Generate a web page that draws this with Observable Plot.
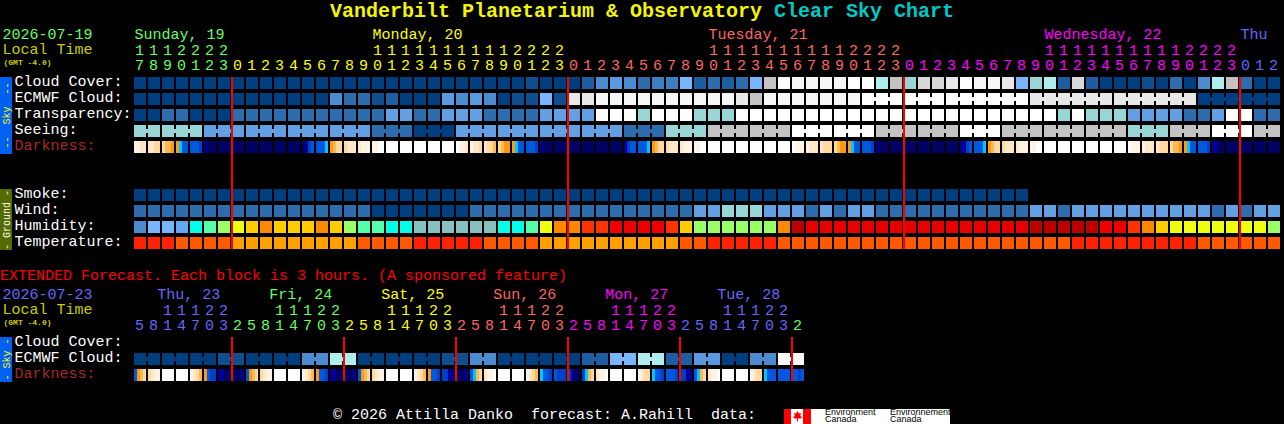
<!DOCTYPE html>
<html>
<head>
<meta charset="utf-8">
<script src="https://cdn.jsdelivr.net/npm/d3@7"></script>
<script src="https://cdn.jsdelivr.net/npm/@observablehq/plot@0.6"></script>
<style>
  html, body { margin: 0; padding: 0; background: #000; overflow: hidden; }
  body { width: 1284px; height: 424px; font-family: "Liberation Mono", monospace; position: relative; }
  #title { height: 24px; line-height: 24px; padding-left: 330px; font-size: 20px; font-weight: bold; color: #f5f500; white-space: pre; }
  #title span { color: #00c8c8; }
  #extended { height: 16px; line-height: 18px; font-size: 15px; color: #ff0000; white-space: pre; }
  #footer { position: relative; height: 40px; color: #fff; font-size: 15px; white-space: pre; }
  #credit { position: absolute; left: 333px; top: 24px; line-height: 16px; }
  #logo { position: absolute; left: 784px; top: 25px; width: 166px; height: 15px; background: #fff; color: #000; font: 9px/7px "Liberation Sans", sans-serif; }
  #logo svg { position: absolute; left: 0; top: 0; }
  #logo div { position: absolute; top: 0; white-space: pre; }
  svg { display: block; }
</style>
</head>
<body>
<div id="title">Vanderbilt Planetarium &amp; Observatory <span>Clear Sky Chart</span></div>
<div id="main"></div>
<div id="extended">EXTENDED Forecast. Each block is 3 hours. (A sponsored feature)</div>
<div id="ext"></div>
<div id="footer">
  <div id="credit">© 2026 Attilla Danko  forecast: A.Rahill  data:</div>
  <div id="logo">
    <svg width="27" height="15"><rect width="7" height="15" fill="#f00"/><rect x="19" width="8" height="15" fill="#f00"/><polygon fill="#f00" points="13.5,2 15,4.5 17,4 16.2,7 18,8 16.5,9.5 14,9.5 14,12.5 13,12.5 13,9.5 10.5,9.5 9,8 10.8,7 10,4 12,4.5"/></svg>
    <div style="left:41px">Environment
Canada</div>
    <div style="left:106px">Environnement
Canada</div>
  </div>
</div>
<script>
// ---------- Sky / ground condition series, one value per hour block (48-hour forecast) ----------
const cloudCover = [0,0,0,0,0,0,0,0,0,0,0,0,0,0,0,0,0,0,0,0,0,0,0,0,0,0,0,0,5,0,0,0,10,40,50,40,20,30,30,60,10,20,10,20,60,90,100,96,96,96,96,100,100,80,90,70,92,92,94,100,96,96,94,60,70,80,10,92,10,0,0,0,5,0,20,0,40,80,90,20,0,0];
const ecmwfCloud = [0,0,0,0,0,0,0,0,0,0,0,0,0,0,40,20,20,5,10,0,0,0,50,40,50,40,0,5,5,60,5,94,94,96,96,96,96,96,96,96,96,96,96,94,90,96,96,96,96,96,96,96,100,100,100,100,100,100,100,100,100,100,100,100,94,94,94,94,94,94,94,94,94,94,94,94,0,0,0,0,0,0];
const ecmwfSpans = [1,1,1,1,1,1,1,1,1,1,1,1,1,1,1,1,1,1,1,1,1,1,1,1,1,1,1,1,1,1,1,1,1,1,1,1,1,1,1,1,1,1,1,1,1,1,1,1,1,1,1,1,3,3,6,6,6,6];
const transparency = [0,0,20,20,0,0,0,20,20,20,20,20,20,20,20,20,20,20,45,45,20,20,45,45,45,20,20,20,20,45,45,45,45,100,100,100,70,100,100,100,70,70,70,100,100,100,100,100,100,100,100,100,100,100,100,100,100,100,100,100,100,100,100,100,100,100,70,100,70,70,70,45,45,45,45,20,20,45,100,100,20,20];
const seeingLevels = [70,70,45,45,45,45,20,0,45,45,45,45,20,70,90,90,100,100,90,90,100,90,90,90,70,90,100,90];
const seeingSpans = [2,3,3,3,3,3,3,3,3,3,3,3,3,3,3,3,3,3,3,3,3,3,3,3,3,3,3,2];
const darkness = ["aabb","bbcc","cdde","eCBB","BBBD","ENNN","NNNN","NNNN","NNNN","NNNN","NNNN","NNNN","NEDB","BBBC","edcc","cbbb","baaa","aaWW","WWWW","WWWW","WWWW","WWWW","WWWW","Waab","abbc","bccd","cdee","eCBB","BBBD","ENNN","NNNN","NNNN","NNNN","NNNN","NNNN","EDBB","BBBC","edcc","cbbb","baaa","aaWW","WWWW","WWWW","WWWW","WWWW","WWWW","WWWW","Waaa","abbb","bccc","cdee","eCBB","BBBD","ENNN","NNNN","NNNN","NNNN","NNNN","NNNN","EEDB","BBBC","edcc","cbbb","baaa","aaWW","WWWW","WWWW","WWWW","WWWW","WWWW","WWWW","Waaa","abbb","bccc","cdde","eCBB","BBBD","EENN","NNNN","NNNN","NNNN","NNNN"];
const smoke = [0,0,0,0,0,0,0,0,0,0,0,0,0,0,0,0,0,0,0,0,0,0,0,0,0,0,0,0,0,0,0,0,0,0,0,0,0,0,0,0,0,0,0,0,0,0,0,0,0,0,0,0,0,0,0,0,0,0,0,0,0,0,0,0];
const wind = [20,20,20,20,20,20,20,20,20,20,20,20,20,20,20,20,20,0,0,0,0,0,0,0,20,20,20,20,20,20,20,20,20,20,20,20,20,20,20,20,45,45,70,70,70,45,45,45,20,45,20,45,45,20,20,20,20,20,20,20,20,20,20,20,45,45,20,45,45,45,45,45,45,45,45,45,45,20,45,20,45,45];
const humidity = [87,82,82,77,62,57,52,47,42,37,42,42,42,37,42,52,57,57,62,62,67,67,67,67,67,67,62,62,57,47,37,37,32,32,26,26,26,26,32,42,52,52,52,52,52,52,37,22,27,27,27,27,27,27,27,27,27,27,27,27,27,27,27,27,22,22,22,22,22,26,26,32,37,42,47,47,47,47,47,47,47,52];
const temperature = [30,30,30,27,27,27,27,24,24,24,24,24,24,24,24,24,27,27,27,27,30,30,30,30,30,27,27,27,27,24,24,24,24,24,24,24,24,24,24,27,27,30,30,30,30,30,27,27,27,27,27,27,27,27,27,27,27,27,27,27,27,27,27,27,27,27,27,30,30,30,30,30,30,30,30,30,27,27,27,27,27,27];

// ---------- Hour tick labels and day headings, 48-hour forecast ----------
const hours = [17,18,19,20,21,22,23,0,1,2,3,4,5,6,7,8,9,10,11,12,13,14,15,16,17,18,19,20,21,22,23,0,1,2,3,4,5,6,7,8,9,10,11,12,13,14,15,16,17,18,19,20,21,22,23,0,1,2,3,4,5,6,7,8,9,10,11,12,13,14,15,16,17,18,19,20,21,22,23,0,1,2];
const hourDays = [[0,7,"sun"],[7,24,"mon"],[31,24,"tue"],[55,24,"wed"],[79,3,"thu"]];
const dayNames = ["Sunday, 19","Monday, 20","Tuesday, 21","Wednesday, 22","Thu"];
const dayCols = [0,17,41,65,79];
const dayKeys = ["sun","mon","tue","wed","thu"];
const midnights = [7,31,55,79];

// ---------- Extended forecast: one value per 3-hour block ----------
const extCloudLevels = [0,0,0,5,0,0,40,80,0,0,0,5,40,0,0,0,10,60,80,10,50,0,40,97];
const extDarkness = ["Bedc","cbaa","WWWW","WWWW","abcd","eBDD","EENN","NNNE","Bedc","cbaa","WWWW","WWWW","abcd","eBBD","EENN","NNNE","Bedc","cbaa","WWWW","WWWW","abcd","eBBD","DDEE","NNNE","BCdc","baaW","WWWW","WWWW","abcd","CBBD","BDDD","DENN","DCdc","baaW","WWWW","WWWW","abcc","CBBD","BBBD","DDEE","BCdc","baaW","WWWW","WWWW","abcc","CBBB","BBBB","BBDB"];
const extHours = [5,8,11,14,17,20,23,2,5,8,11,14,17,20,23,2,5,8,11,14,17,20,23,2,5,8,11,14,17,20,23,2,5,8,11,14,17,20,23,2,5,8,11,14,17,20,23,2];
const extHourDays = [[0,7,"thu"],[7,8,"fri"],[15,8,"sat"],[23,8,"sun2"],[31,8,"mon2"],[39,8,"tue2"],[47,1,"wed2"]];
const extDayNames = ["Thu, 23","Fri, 24","Sat, 25","Sun, 26","Mon, 27","Tue, 28"];
const extDayCols = [1.62,9.62,17.62,25.62,33.62,41.62];
const extDayKeys = ["thu","fri","sat","sun2","mon2","tue2"];
const extMidnights = [7,15,23,31,39,47];

// ---------- Colour legends of the chart ----------
const skyPalette = {0:"#003f7f",5:"#0f4f8f",10:"#1c5ea0",20:"#2d6cad",30:"#3e7fc2",40:"#4a8ccf",45:"#63a0e3",50:"#5a98e0",60:"#77b6ff",70:"#98d6d6",80:"#aeeeee",90:"#c3c3c3",92:"#d8d8d8",94:"#e8e8e8",96:"#f6f6f6",97:"#f9f9f9",100:"#ffffff"};
const humidityPalette = {22:"#bb0000",26:"#ee0000",27:"#e60000",32:"#ff3300",37:"#ff8800",42:"#ffcc00",47:"#eeff11",52:"#99ff66",57:"#55ffaa",62:"#00ffe6",67:"#88c0c0",77:"#63a8f0",82:"#77b6ff",87:"#4a8ccf"};
const temperaturePalette = {24:"#ffa000",27:"#ff5a00",30:"#ff2200"};
const darknessPalette = {N:"#000064",E:"#000098",D:"#0040c8",B:"#0058e0",C:"#00c8ff",e:"#ff9a10",d:"#ffb850",c:"#ffd8a0",b:"#ffe8c8",a:"#fff4e4",W:"#ffffff"};
const inkPalette = {sun:"#66ff66",fri:"#66ff66",wed2:"#66ff66",mon:"#ffff00",sat:"#ffff00",tue:"#ff6666",sun2:"#ff6666",wed:"#ff00ff",mon2:"#ff00ff",thu:"#6666ff",tue2:"#6666ff",white:"#ffffff",brown:"#a52a2a",dim:"#cccc00"};

const colorKeys = [];
const colorValues = [];
for (const [prefix, pal] of [["s",skyPalette],["h",humidityPalette],["t",temperaturePalette],["d",darknessPalette],["",inkPalette]]) {
  for (const k of Object.keys(pal)) { colorKeys.push(prefix + k); colorValues.push(pal[k]); }
}

const font = {fontFamily: "Liberation Mono", fontSize: 15};
const gutter = 134 / 14;               // label column, in blocks
const blockWidth = 12 / 14;
const stripWidth = 3 / 14;

const blocks = (values, row, prefix) => values.map((v, col) => ({col, row, key: prefix + v}));
const strips = (values, row) => values.flatMap((s, col) => [...s].map((c, i) => ({col, i, row, key: "d" + c})));
const bridges = (spans, row, values, prefix) => {
  const out = [];
  let col = 0;
  for (const n of spans) {
    for (let i = 0; i < n - 1; ++i) out.push({col: col + i, row, key: prefix + values[col + i]});
    col += n;
  }
  return out;
};
const expand = (levels, spans) => levels.flatMap((v, i) => Array.from({length: spans[i]}, () => v));
const tickRows = (ticks, spansByDay) => ticks.map((h, col) => {
  const day = spansByDay.find(([start, n]) => col >= start && col < start + n);
  return {col, h, key: day[2]};
});

function blockMarks(cells, stripCells, joins) {
  return [
    Plot.barX(cells, {x1: "col", x2: d => d.col + 1, y: "row", fill: "key", insetRight: 2}),
    Plot.barX(joins, {x1: "col", x2: d => d.col + 1, y: "row", fill: "key", insetLeft: 12, insetTop: 4, insetBottom: 4}),
    Plot.barX(stripCells, {x1: d => d.col + d.i * stripWidth, x2: d => d.col + (d.i + 1) * stripWidth, y: "row", fill: "key"})
  ];
}

function headerMarks(ticks, hourRanges, names, cols, keys, dateText, dateKey) {
  const rows = tickRows(ticks, hourRanges);
  return [
    Plot.text(names.map((t, i) => ({t, col: cols[i], key: keys[i]})), {...font, text: "t", x: "col", y: () => "day", fill: "key", textAnchor: "start", dx: 0, dy: -1}),
    Plot.text(rows.filter(d => d.h >= 10), {...font, text: d => String(Math.floor(d.h / 10)), x: d => d.col + 0.5, y: () => "tens", fill: "key", dx: -2, dy: -1.8}),
    Plot.text(rows, {...font, text: d => String(d.h % 10), x: d => d.col + 0.5, y: () => "ones", fill: "key", dx: -2, dy: -2.8}),
    Plot.text([dateText], {...font, text: d => d, x: -gutter, y: () => "day", fill: () => dateKey, textAnchor: "start", dx: 2, dy: -1}),
    Plot.text(["Local Time"], {...font, text: d => d, x: -gutter, y: () => "tens", fill: () => "dim", textAnchor: "start", dx: 2, dy: -2}),
    Plot.text(["(GMT -4.0)"], {fontFamily: "Liberation Mono", fontSize: 8, fontWeight: "bold", text: d => d, x: -gutter, y: () => "ones", fill: () => "dim", textAnchor: "start", dx: 3, dy: -4.6})
  ];
}

const rowLabels = rows => Plot.text(rows, {...font, text: d => d, y: d => d, x: -gutter + 1, textAnchor: "start", fill: d => d === "Darkness:" ? "brown" : "white", dy: -2});

const sideBar = (from, to, color, text, textColor, textRow, dy) => [
  Plot.rect([0], {x1: -gutter, x2: -gutter + blockWidth, y1: () => from, y2: () => to, fill: color, insetBottom: -1}),
  Plot.text([text], {fontFamily: "Liberation Mono", fontSize: 10, text: d => d, x: -gutter + 0.43, y: () => textRow, rotate: -90, fill: textColor, dy, dx: 0})
];

const redLines = (cols, from, to) => Plot.rect(cols, {x1: d => d, x2: d => d, y1: () => from, y2: () => to, fill: "#ff0000", insetLeft: -1, insetRight: -1});

function chart(rowsDomain, marks, height) {
  return Plot.plot({
    width: 1284,
    height,
    margin: 0,
    style: {background: "black", overflow: "hidden"},
    x: {domain: [-gutter, 82 + 2 / 14], range: [0, 1284], axis: null},
    y: {type: "band", domain: rowsDomain, range: [5, 5 + rowsDomain.length * 16 - 4], paddingInner: 0.25, paddingOuter: 0, round: false, axis: null},
    color: {type: "ordinal", domain: colorKeys, range: colorValues},
    marks
  });
}

// ---------- 48-hour chart ----------
const mainRows = ["day","tens","ones","Cloud Cover:","ECMWF Cloud:","Transparency:","Seeing:","Darkness:","gapA","gapB","Smoke:","Wind:","Humidity:","Temperature:"];
const seeing = expand(seeingLevels, seeingSpans);
const mainCells = [
  ...blocks(cloudCover, "Cloud Cover:", "s"),
  ...blocks(ecmwfCloud, "ECMWF Cloud:", "s"),
  ...blocks(transparency, "Transparency:", "s"),
  ...blocks(seeing, "Seeing:", "s"),
  ...blocks(smoke, "Smoke:", "s"),
  ...blocks(wind, "Wind:", "s"),
  ...blocks(humidity, "Humidity:", "h"),
  ...blocks(temperature, "Temperature:", "t")
];
const mainJoins = [
  ...bridges(seeingSpans, "Seeing:", seeing, "s"),
  ...bridges(ecmwfSpans, "ECMWF Cloud:", ecmwfCloud, "s")
];
document.getElementById("main").append(chart(mainRows, [
  ...sideBar("Cloud Cover:", "Darkness:", "#0060f0", "--  Sky  --", "#ffff00", "Transparency:", 0),
  ...sideBar("Smoke:", "Temperature:", "#556b00", "- Ground -", "#ffffff", "Wind:", 8.5),
  ...blockMarks(mainCells, strips(darkness, "Darkness:"), mainJoins),
  ...headerMarks(hours, hourDays, dayNames, dayCols, dayKeys, "2026-07-19", "sun"),
  rowLabels(mainRows.slice(3).filter(r => !r.startsWith("gap"))),
  redLines(midnights, "Cloud Cover:", "Temperature:")
], 244));

// ---------- Extended chart ----------
const extRows = ["day","tens","ones","Cloud Cover:","ECMWF Cloud:","Darkness:"];
const extSpans = extCloudLevels.map(() => 2);
const extCloud = expand(extCloudLevels, extSpans);
document.getElementById("ext").append(chart(extRows, [
  ...sideBar("Cloud Cover:", "Darkness:", "#0060f0", "- Sky -", "#ffff00", "ECMWF Cloud:", 0),
  ...blockMarks(blocks(extCloud, "ECMWF Cloud:", "s"), strips(extDarkness, "Darkness:"), bridges(extSpans, "ECMWF Cloud:", extCloud, "s")),
  ...headerMarks(extHours, extHourDays, extDayNames, extDayCols, extDayKeys, "2026-07-23", "thu"),
  rowLabels(extRows.slice(3)),
  redLines(extMidnights, "Cloud Cover:", "Darkness:")
], 100));
</script>
</body>
</html>
